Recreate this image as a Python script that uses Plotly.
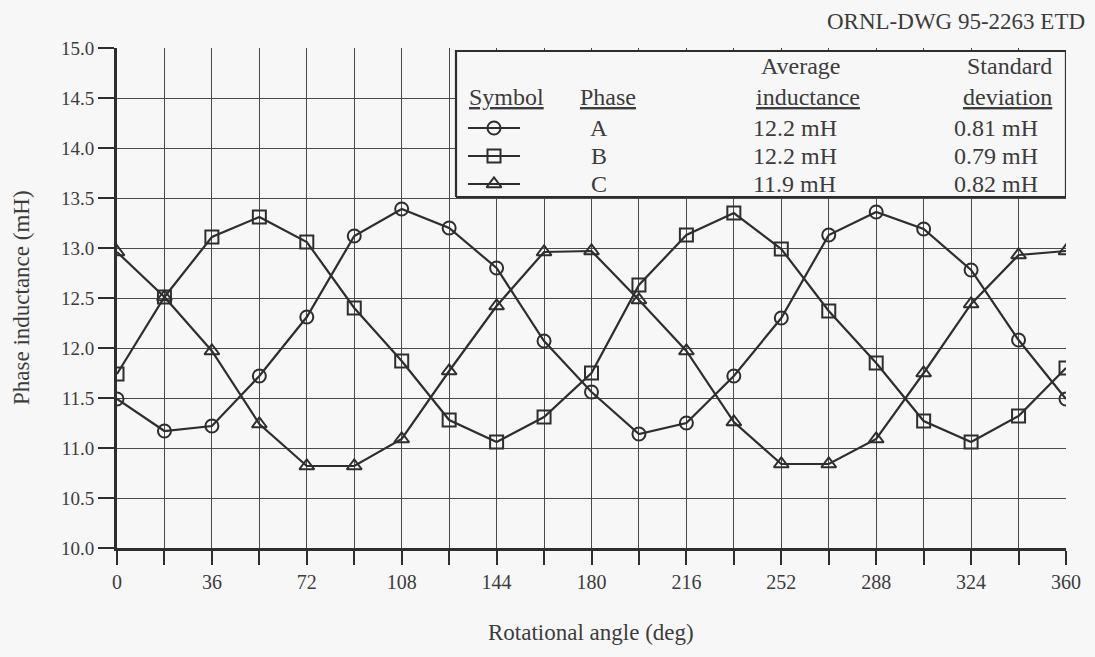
import plotly.graph_objects as go

# Rotor angle samples (deg) and measured phase inductances (mH)
angle_deg = list(range(0, 361, 18))
phase_a = [11.49, 11.17, 11.22, 11.72, 12.31, 13.12, 13.39, 13.20, 12.80, 12.07, 11.56,
           11.14, 11.25, 11.72, 12.30, 13.13, 13.36, 13.19, 12.78, 12.08, 11.49]
phase_b = [11.74, 12.51, 13.11, 13.31, 13.06, 12.40, 11.87, 11.28, 11.06, 11.31, 11.75,
           12.63, 13.13, 13.35, 12.99, 12.37, 11.85, 11.27, 11.06, 11.32, 11.80]
phase_c = [12.96, 12.51, 11.97, 11.24, 10.82, 10.82, 11.09, 11.77, 12.42, 12.96, 12.97,
           12.48, 11.97, 11.26, 10.84, 10.84, 11.09, 11.75, 12.44, 12.93, 12.97]

# Summary table
phase_names = ["A", "B", "C"]
avg_inductance = ["12.2 mH", "12.2 mH", "11.9 mH"]
std_deviation = ["0.81 mH", "0.79 mH", "0.82 mH"]
symbols = ["circle-open", "square-open", "triangle-up-open"]

# Axis ticks
x_tickvals = list(range(0, 361, 18))
x_ticktext = [str(v) if v % 36 == 0 else "" for v in x_tickvals]
y_tickvals = [10.0 + 0.5 * i for i in range(11)]

INK = "#2e2e2e"
TEXT = "#3c3c3c"
BG = "#f7f7f7"
FONT = "Liberation Serif"
MARKER = dict(size=13, color=INK, line=dict(width=2, color=INK))

# Figure geometry (pixels)
W, H = 1095, 657
L, R, T, B = 117, 29, 48, 109
PW, PH = W - L - R, H - T - B


def px(x):
    return (x - L) / PW


def py(y):
    return (H - B - y) / PH


fig = go.Figure()

for vals, sym in zip([phase_a, phase_b, phase_c], symbols):
    fig.add_trace(go.Scatter(
        x=angle_deg, y=vals, mode="lines+markers",
        line=dict(color=INK, width=2.2),
        marker=dict(symbol=sym, **MARKER),
        showlegend=False, hoverinfo="skip",
    ))

# Table box on an overlay axis in paper units (covers the grid underneath)
bx0, bx1, by0, by1 = px(456), px(1066), py(197), py(51)
fig.add_trace(go.Scatter(
    x=[bx0, bx1, bx1, bx0, bx0], y=[by0, by0, by1, by1, by0],
    xaxis="x2", yaxis="y2", mode="lines", fill="toself", fillcolor=BG,
    line=dict(color=INK, width=2.2), showlegend=False, hoverinfo="skip",
))

# Key samples inside the table box
key_x_center = px(494)
row_y = [128, 156, 184]
for sym, ry in zip(symbols, row_y):
    fig.add_trace(go.Scatter(
        x=[px(468), key_x_center, px(520)], y=[py(ry)] * 3,
        xaxis="x2", yaxis="y2", mode="lines",
        line=dict(color=INK, width=2.2), showlegend=False, hoverinfo="skip",
    ))
    fig.add_trace(go.Scatter(
        x=[key_x_center], y=[py(ry)], xaxis="x2", yaxis="y2", mode="markers",
        marker=dict(symbol=sym, **MARKER),
        showlegend=False, hoverinfo="skip",
    ))

annotations = []


def add_text(text, x, y, xanchor="center", size=24):
    annotations.append(dict(
        text=text, x=px(x), y=py(y), xref="paper", yref="paper",
        xanchor=xanchor, yanchor="middle", showarrow=False,
        font=dict(family=FONT, size=size, color=TEXT),
    ))


add_text("ORNL-DWG 95-2263 ETD", 1087, 22, xanchor="right", size=23)

add_text("<u>Symbol</u>", 506, 97)
add_text("<u>Phase</u>", 608, 97)
add_text("Average", 801, 66)
add_text("<u>inductance</u>", 808, 97)
add_text("Standard", 1054, 66, xanchor="right")
add_text("<u>deviation</u>", 1054, 97, xanchor="right")
for name, avg, sd, ry in zip(phase_names, avg_inductance, std_deviation, row_y):
    add_text(name, 599, ry)
    add_text(avg, 751, ry, xanchor="left")
    add_text(sd, 952, ry, xanchor="left")

# Axis titles
add_text("Rotational angle (deg)", 591, 632, size=23)
annotations.append(dict(
    text="Phase inductance (mH)", x=px(21), y=py(298), xref="paper", yref="paper",
    xanchor="center", yanchor="middle", showarrow=False, textangle=-90,
    font=dict(family=FONT, size=23, color=TEXT),
))

fig.update_layout(
    width=W, height=H,
    margin=dict(l=L, r=R, t=T, b=B),
    paper_bgcolor=BG, plot_bgcolor=BG,
    annotations=annotations,
    xaxis=dict(
        range=[0, 360], tickvals=x_tickvals, ticktext=x_ticktext,
        showgrid=True, gridcolor="#4a4a4a", gridwidth=1.2,
        ticks="outside", ticklen=14, tickwidth=1.6, tickcolor=INK,
        showline=True, linecolor=INK, linewidth=3, mirror=False, zeroline=False,
        tickfont=dict(family=FONT, size=20, color=TEXT),
    ),
    yaxis=dict(
        range=[10, 15], tickvals=y_tickvals, tickformat=".1f",
        showgrid=True, gridcolor="#4a4a4a", gridwidth=1.2,
        ticks="outside", ticklen=16, tickwidth=2, tickcolor=INK,
        showline=True, linecolor=INK, linewidth=3, mirror=False, zeroline=False,
        tickfont=dict(family=FONT, size=19, color=TEXT),
    ),
    xaxis2=dict(range=[0, 1], overlaying="x", visible=False, fixedrange=True),
    yaxis2=dict(range=[0, 1], overlaying="y", visible=False, fixedrange=True),
)

fig.write_html("out.html")
